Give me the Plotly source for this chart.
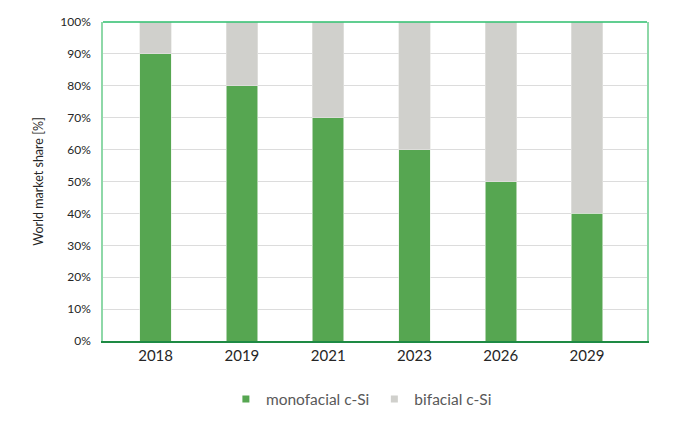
import plotly.graph_objects as go

# market share data
years = ["2018", "2019", "2021", "2023", "2026", "2029"]
monofacial = [0.90, 0.80, 0.70, 0.60, 0.50, 0.40]
bifacial = [0.10, 0.20, 0.30, 0.40, 0.50, 0.60]
y_ticks = [i / 10 for i in range(11)]
y_tick_labels = [f"{i * 10}%" for i in range(11)]

FONT = "Lato, Open Sans, sans-serif"
GREEN = "#56A651"
GREY = "#D0D0CC"

fig = go.Figure()
fig.add_trace(go.Bar(
    x=years, y=monofacial, name="monofacial c-Si", showlegend=False,
    marker=dict(color=GREEN, line=dict(color="#E8F2E6", width=0.6)),
    width=0.365,
))
fig.add_trace(go.Bar(
    x=years, y=bifacial, name="bifacial c-Si", showlegend=False,
    marker=dict(color=GREY, line=dict(color="#E6E6E3", width=0.6)),
    width=0.365,
))
# legend entries with small square markers
for name, col in [("monofacial c-Si", GREEN), ("bifacial c-Si", GREY)]:
    fig.add_trace(go.Scatter(
        x=[None], y=[None], mode="markers", name=name,
        marker=dict(symbol="square", size=7, color=col),
    ))

# page body has an 8px margin, so the figure is a bit smaller than the window
fig.update_layout(
    barmode="stack",
    width=688, height=417,
    margin=dict(l=95, r=49, t=14, b=84, autoexpand=False),
    paper_bgcolor="white", plot_bgcolor="white",
    font=dict(family=FONT, color="#404040"),
    showlegend=True,
    legend=dict(
        orientation="h", x=0.475, xanchor="center", y=-0.13, yanchor="top",
        font=dict(size=15.5, color="#595959"), itemwidth=30,
        traceorder="normal", tracegroupgap=0,
    ),
    # top border of the frame
    shapes=[dict(type="line", xref="paper", yref="paper", x0=0, x1=1, y0=1, y1=1,
                 line=dict(color="#2DBE6C", width=1.5))],
)
fig.update_xaxes(
    type="category", range=[-0.61, 5.695], automargin=False,
    showline=True, linecolor="#1E8A44", linewidth=1.5,
    tickfont=dict(size=15, color="#262626"),
    ticks="", showgrid=False,
)
fig.update_yaxes(
    range=[0, 1], tickvals=y_ticks, ticktext=y_tick_labels, automargin=False,
    tickfont=dict(size=12, color="#262626"),
    showgrid=True, gridcolor="#DCDCDC", gridwidth=1,
    showline=True, linecolor="#8ED8A8", linewidth=1.5, mirror=True,
    ticks="outside", ticklen=8, tickcolor="rgba(0,0,0,0)",
    zeroline=False,
    title=dict(text="World market share [%]", font=dict(size=12.5, color="#262626"), standoff=14),
)

fig.write_html("out.html")
